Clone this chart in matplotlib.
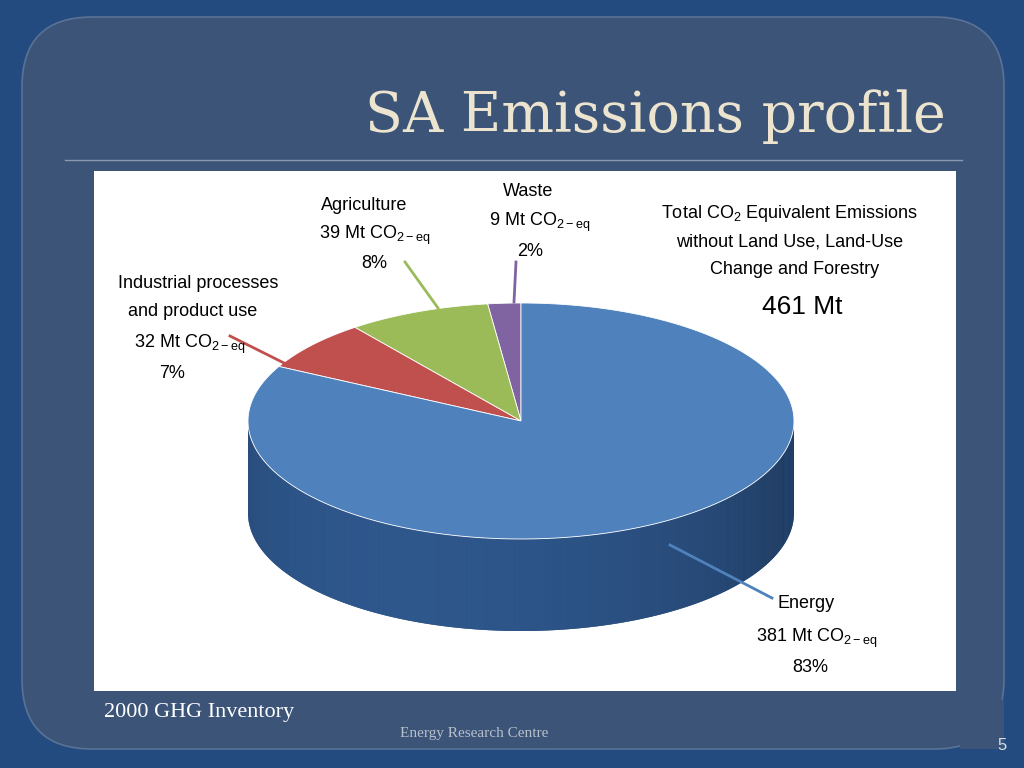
import numpy as np
import matplotlib
matplotlib.use("Agg")
import matplotlib.pyplot as plt
from matplotlib.patches import FancyBboxPatch, Rectangle, Polygon

categories = ["Waste", "Agriculture", "Industrial processes\nand product use", "Energy"]
values_mt = [9, 39, 32, 381]
percents = [2, 8, 7, 83]
colors = ["#8064a2", "#9bbb59", "#c0504d", "#4f81bd"]
total_mt = 461

fig = plt.figure(figsize=(10.24, 7.68), dpi=100)
fig.patch.set_facecolor("#234b80")
ax = fig.add_axes([0, 0, 1, 1])
ax.set_xlim(0, 1024); ax.set_ylim(768, 0); ax.axis("off")

ax.add_patch(FancyBboxPatch((22, 17), 982, 732, boxstyle="round,pad=0,rounding_size=70",
                            fc="#3b5478", ec="#5a7295", lw=1.2))
ax.add_patch(FancyBboxPatch((960, 700), 44, 49, boxstyle="square,pad=0", fc="#3b5478", ec="none"))
ax.plot([65, 962], [160, 160], color="#8a9ab0", lw=1)
ax.text(655, 117, "SA Emissions profile", family="DejaVu Serif", fontsize=40,
        color="#ece4cf", ha="center", va="center")
ax.add_patch(Rectangle((94, 171), 862, 520, fc="white", ec="none"))

cx, cy, rx, ry, depth = 521, 421, 273, 118, 92
def pt(t):
    return cx + rx*np.cos(t), cy - ry*np.sin(t)

# side (bottom half), Energy covers it
t = np.linspace(np.pi, 2*np.pi, 200)
xs, ys = pt(t)
side = list(zip(xs, ys)) + list(zip(xs[::-1], ys[::-1] + depth))
ax.add_patch(Polygon(side, closed=True, fc="#2b5283", ec="none"))
# shading strips
for i in range(len(t)-1):
    shade = 0.75 + 0.25*np.cos(t[i] - 1.35*np.pi)
    c = np.array([0.18, 0.34, 0.55]) * shade
    ax.add_patch(Polygon([(xs[i], ys[i]), (xs[i+1], ys[i+1]), (xs[i+1], ys[i+1]+depth),
                          (xs[i], ys[i]+depth)], fc=np.clip(c, 0, 1), ec="none"))

# top wedges, counterclockwise from top
start = np.pi/2
tot = sum(values_mt)
for v, c in zip(values_mt, colors):
    sweep = 2*np.pi*v/tot
    tt = np.linspace(start, start+sweep, 200)
    px, py = pt(tt)
    ax.add_patch(Polygon([(cx, cy)] + list(zip(px, py)), closed=True, fc=c, ec="white", lw=0.6))
    start += sweep

lc = dict(lw=2)
ax.plot([514, 516], [302, 262], color="#8064a2", **lc)
ax.plot([438, 405], [308, 262], color="#9bbb59", **lc)
ax.plot([290, 230], [366, 336], color="#c0504d", **lc)
ax.plot([670, 772], [545, 598], color="#4f81bd", **lc)

fs = 13
def lab(x, y, name, v, p):
    ax.text(x, y, name, fontsize=fs, ha="center", va="center", family="Liberation Sans", linespacing=1.6)
    return
kw = dict(fontsize=fs, ha="center", va="center", family="Liberation Sans")
sub = lambda v: f"{v} Mt CO$_{{\\mathregular{{2-eq}}}}$"
ax.text(528, 191, "Waste", **kw); ax.text(540, 222, sub(values_mt[0]), **kw); ax.text(530, 251, f"{percents[0]}%", **kw)
ax.text(364, 205, "Agriculture", **kw); ax.text(375, 235, sub(values_mt[1]), **kw); ax.text(374, 264, f"{percents[1]}%", **kw)
ax.text(198, 283, "Industrial processes", **kw); ax.text(193, 311, "and product use", **kw)
ax.text(190, 344, sub(values_mt[2]), **kw); ax.text(172, 373, f"{percents[2]}%", **kw)
ax.text(806, 603, "Energy", **kw); ax.text(817, 638, sub(values_mt[3]), **kw); ax.text(810, 667, f"{percents[3]}%", **kw)
ax.text(790, 214, "Total CO$_{\\mathregular{2}}$ Equivalent Emissions", **kw)
ax.text(790, 242, "without Land Use, Land-Use", **kw)
ax.text(795, 270, "Change and Forestry", **kw)
ax.text(802, 307, f"{total_mt} Mt", fontsize=19, ha="center", va="center", family="Liberation Sans")

ax.text(104, 713, "2000 GHG Inventory", family="Liberation Serif", fontsize=16, color="white", va="center")
ax.text(400, 734, "Energy Research Centre", family="Liberation Serif", fontsize=11, color="#b8c0cc", va="center")
ax.text(1002, 746, "5", family="Liberation Sans", fontsize=12, color="#d8dde5", ha="center", va="center")

fig.savefig("out.png", dpi=100, facecolor=fig.get_facecolor())
